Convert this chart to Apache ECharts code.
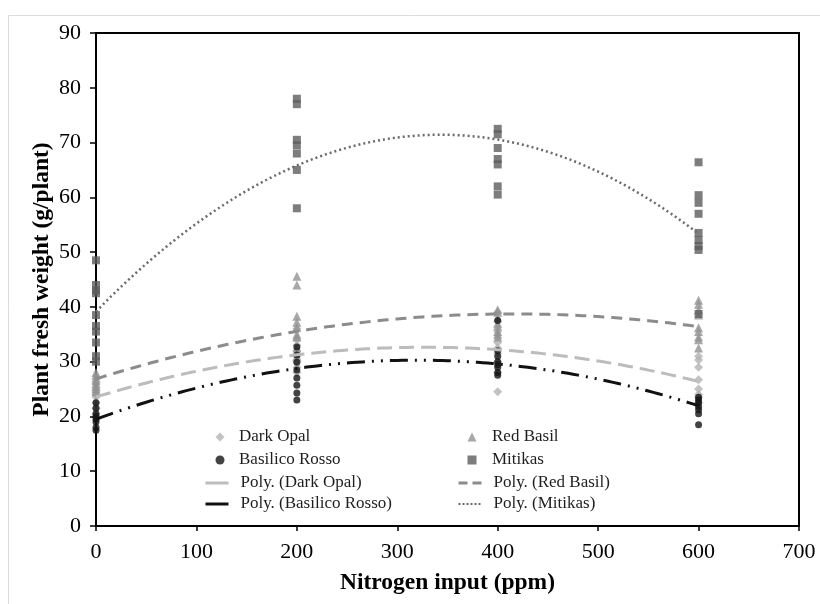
<!DOCTYPE html>
<html><head><meta charset="utf-8">
<script src="https://cdn.jsdelivr.net/npm/echarts@6/dist/echarts.min.js"></script>
<style>html,body{margin:0;padding:0;background:#fff}#c{width:820px;height:604px}</style>
</head><body><div id="c"></div>
<script>
const nitrogenLevels = [0, 200, 400, 600];
const xTicks = [0, 100, 200, 300, 400, 500, 600, 700];
const yTicks = [0, 10, 20, 30, 40, 50, 60, 70, 80, 90];

// fresh weight (g/plant) per nitrogen level, aligned with nitrogenLevels
const darkOpal = [
  [26, 25, 24.5, 24, 23.5, 22.5, 21.5, 20.5],
  [36, 34, 33, 32, 31, 30, 29, 28],
  [39, 35.5, 33.5, 32.5, 31.5, 30, 28, 24.5],
  [31, 30.3, 29, 26.7, 25, 24, 23.5, 22.5]
];
const redBasil = [
  [28, 27.5, 27, 26.5, 26, 25.5, 25, 24.5],
  [45.6, 44, 38.3, 37.2, 36.3, 35, 34.5, 32.5, 31],
  [39.5, 39, 38, 37, 36.5, 35.5, 35, 34.5],
  [41.2, 40.5, 39.5, 38.5, 36.2, 35.5, 34.5, 34, 32.5]
];
const basilicoRosso = [
  [22.5, 21.5, 20.5, 20, 19.5, 19, 18, 17.5],
  [32.7, 31.2, 29.9, 28.5, 27.0, 25.7, 24.3, 23.0],
  [37.5, 32, 31, 30, 29.5, 29, 28, 27.5],
  [23.5, 23, 22.5, 21.8, 21.2, 20.5, 18.5]
];
const mitikas = [
  [48.5, 44, 43, 42.5, 38.5, 36.5, 35.5, 33.5, 31, 30],
  [78, 77, 70.5, 69.5, 68, 65, 58],
  [72.5, 71.5, 69, 67, 66, 62, 60.5],
  [66.4, 60.4, 59, 57, 53.5, 52.2, 51.1, 50.4, 38.7]
];

function toPoints(groups) {
  const pts = [];
  groups.forEach((vals, i) => vals.forEach(v => pts.push([nitrogenLevels[i], v])));
  return pts;
}
// least-squares polynomial (order 2) trendline computed from the points
function polyFit(pts) {
  let s = [0,0,0,0,0], t = [0,0,0];
  pts.forEach(([x, y]) => {
    const u = x / 100;
    for (let k = 0; k < 5; k++) s[k] += Math.pow(u, k);
    for (let k = 0; k < 3; k++) t[k] += y * Math.pow(u, k);
  });
  const A = [[s[0], s[1], s[2], t[0]], [s[1], s[2], s[3], t[1]], [s[2], s[3], s[4], t[2]]];
  for (let i = 0; i < 3; i++) {
    for (let j = i + 1; j < 3; j++) {
      const f = A[j][i] / A[i][i];
      for (let k = i; k < 4; k++) A[j][k] -= f * A[i][k];
    }
  }
  const c = [0,0,0];
  for (let i = 2; i >= 0; i--) {
    let v = A[i][3];
    for (let k = i + 1; k < 3; k++) v -= A[i][k] * c[k];
    c[i] = v / A[i][i];
  }
  const out = [];
  const xmin = nitrogenLevels[0], xmax = nitrogenLevels[nitrogenLevels.length - 1];
  for (let x = xmin; x <= xmax; x += 5) {
    const u = x / 100;
    out.push([x, c[0] + c[1] * u + c[2] * u * u]);
  }
  return out;
}

const FONT = 'Liberation Serif';
const pDO = toPoints(darkOpal), pRB = toPoints(redBasil), pBR = toPoints(basilicoRosso), pMI = toPoints(mitikas);

const chart = echarts.init(document.getElementById('c'), null, {renderer: 'canvas'});
const txt = (padLeft) => ({fontFamily: FONT, fontSize: 17, color: '#1e1e1e', lineHeight: 17, padding: [0, 0, 0, padLeft]});
const hideDot = {color: 'rgba(0,0,0,0)', borderWidth: 0, opacity: 0};
chart.setOption({
  animation: false,
  backgroundColor: '#fff',
  graphic: [{type: 'rect', shape: {x: 8.5, y: 15.5, width: 830, height: 620}, style: {fill: 'none', stroke: '#dcdcdc', lineWidth: 1}, silent: true}],
  grid: {left: 96, right: 21, top: 33, bottom: 78, show: true, borderColor: '#000', borderWidth: 2, backgroundColor: 'transparent'},
  xAxis: {
    type: 'value', min: xTicks[0], max: xTicks[xTicks.length - 1], interval: 100,
    name: 'Nitrogen input (ppm)', nameLocation: 'middle', nameGap: 45,
    nameTextStyle: {fontFamily: FONT, fontSize: 23.5, fontWeight: 'bold', color: '#000'},
    axisLine: {show: true, onZero: false, lineStyle: {color: '#000', width: 2}},
    axisTick: {show: true, inside: false, length: 5, lineStyle: {color: '#000', width: 1.5}},
    axisLabel: {fontFamily: FONT, fontSize: 22, color: '#000', margin: 15},
    splitLine: {show: false}
  },
  yAxis: {
    type: 'value', min: yTicks[0], max: yTicks[yTicks.length - 1], interval: 10,
    name: 'Plant fresh weight (g/plant)', nameLocation: 'middle', nameGap: 42, nameMoveOverlap: false,
    nameTextStyle: {fontFamily: FONT, fontSize: 23.5, fontWeight: 'bold', color: '#000'},
    axisLine: {show: true, onZero: false, lineStyle: {color: '#000', width: 2}},
    axisTick: {show: true, inside: false, length: 6, lineStyle: {color: '#000', width: 1.5}},
    axisLabel: {fontFamily: FONT, fontSize: 22, color: '#000', margin: 15},
    splitLine: {show: false}
  },
  legend: [
    {orient: 'vertical', padding: 0, selectedMode: false, left: 215.5, top: 428.5, itemWidth: 9, itemHeight: 9, itemGap: 6,
      textStyle: txt(9.5), data: ['Dark Opal', 'Basilico Rosso']},
    {orient: 'vertical', padding: 0, selectedMode: false, left: 204, top: 474.5, itemWidth: 23, itemHeight: 14, itemGap: 4,
      textStyle: txt(7), data: [
        {name: 'Poly. (Dark Opal)', lineStyle: {type: 'solid', width: 3}, itemStyle: hideDot},
        {name: 'Poly. (Basilico Rosso)', lineStyle: {type: 'solid', width: 3}, itemStyle: hideDot}]},
    {orient: 'vertical', padding: 0, selectedMode: false, left: 467.5, top: 428.5, itemWidth: 9, itemHeight: 9, itemGap: 6,
      textStyle: txt(10.5), data: ['Red Basil', 'Mitikas']},
    {orient: 'vertical', padding: 0, selectedMode: false, left: 457, top: 474.5, itemWidth: 23, itemHeight: 14, itemGap: 4,
      textStyle: txt(7), data: [
        {name: 'Poly. (Red Basil)', lineStyle: {type: [9, 5], width: 3}, itemStyle: hideDot},
        {name: 'Poly. (Mitikas)', lineStyle: {type: [2, 2], width: 2}, itemStyle: hideDot}]}
  ],
  series: [
    {name: 'Dark Opal', type: 'scatter', data: pDO, symbol: 'diamond', symbolSize: 9, itemStyle: {color: '#b3b3b3'}, z: 2},
    {name: 'Red Basil', type: 'scatter', data: pRB, symbol: 'triangle', symbolSize: 9, itemStyle: {color: '#929292'}, z: 2},
    {name: 'Basilico Rosso', type: 'scatter', data: pBR, symbol: 'circle', symbolSize: 7, itemStyle: {color: '#141414'}, z: 2},
    {name: 'Mitikas', type: 'scatter', data: pMI, symbol: 'rect', symbolSize: 8, itemStyle: {color: '#5c5c5c'}, z: 2},
    {name: 'Poly. (Dark Opal)', type: 'line', data: polyFit(pDO), symbol: 'none', smooth: false, lineStyle: {color: '#bcbcbc', width: 3, type: [15, 7]}, itemStyle: {color: '#bcbcbc'}, z: 3},
    {name: 'Poly. (Red Basil)', type: 'line', data: polyFit(pRB), symbol: 'none', smooth: false, lineStyle: {color: '#8c8c8c', width: 3, type: [11, 7]}, itemStyle: {color: '#8c8c8c'}, z: 3},
    {name: 'Poly. (Basilico Rosso)', type: 'line', data: polyFit(pBR), symbol: 'none', smooth: false, lineStyle: {color: '#111', width: 3, type: [18, 7, 2, 7, 2, 7]}, itemStyle: {color: '#111'}, z: 3},
    {name: 'Poly. (Mitikas)', type: 'line', data: polyFit(pMI), symbol: 'none', smooth: false, lineStyle: {color: '#6a6a6a', width: 2.5, type: [2, 3]}, itemStyle: {color: '#6a6a6a'}, z: 3}
  ]
});
</script>
</body></html>
